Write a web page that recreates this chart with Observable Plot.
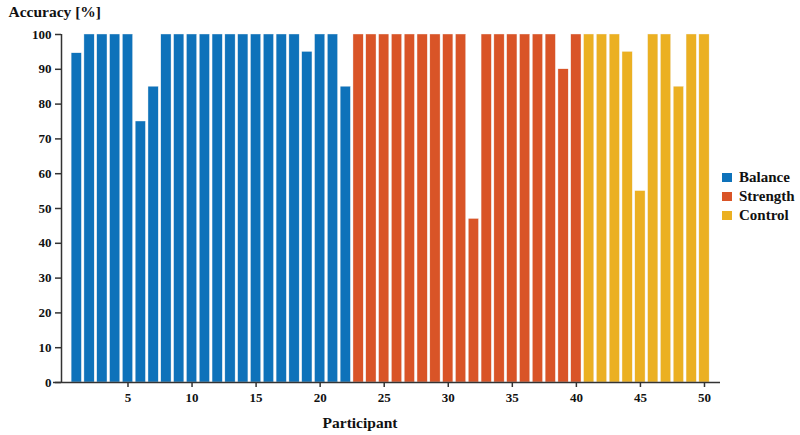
<!DOCTYPE html>
<html>
<head>
<meta charset="utf-8">
<script src="https://cdn.jsdelivr.net/npm/d3@7"></script>
<script src="https://cdn.jsdelivr.net/npm/@observablehq/plot@0.6"></script>
<style>
  html, body { margin: 0; padding: 0; background: #fff; }
  #wrap { position: relative; width: 800px; height: 435px; font-family: "Liberation Serif", "Times New Roman", serif; }
  #legend { position: absolute; left: 722px; top: 168px; font-weight: bold; font-size: 15px; color: #111; }
  #legend div { display: flex; align-items: center; height: 19px; }
  #legend span.sw { display: inline-block; width: 10px; height: 9px; margin-right: 7px; }
</style>
</head>
<body>
<div id="wrap"><div id="legend"></div></div>
<script>
const groups = ["Balance", "Strength", "Control"];
const groupColors = ["#0E72BA", "#D95427", "#EBB022"];
const balance = [94.6, 100, 100, 100, 100, 75, 85, 100, 100, 100, 100, 100, 100, 100, 100, 100, 100, 100, 95, 100, 100, 85];
const strength = [100, 100, 100, 100, 100, 100, 100, 100, 100, 47, 100, 100, 100, 100, 100, 100, 90, 100];
const control = [100, 100, 100, 95, 55, 100, 100, 85, 100, 100];
const yTicks = [0, 10, 20, 30, 40, 50, 60, 70, 80, 90, 100];
const xTicks = [5, 10, 15, 20, 25, 30, 35, 40, 45, 50];

const data = [];
let p = 1;
[balance, strength, control].forEach((vals, gi) => {
  vals.forEach(v => { data.push({participant: p, accuracy: v, group: groups[gi]}); p++; });
});

const font = "Liberation Serif, Times New Roman, serif";
const ink = "#111";

const chart = Plot.plot({
  width: 800,
  height: 435,
  marginTop: 34,
  marginBottom: 53,
  marginLeft: 61,
  marginRight: 80,
  style: {fontFamily: font, fontSize: "13px", fontWeight: "bold", color: ink, background: "#fff"},
  x: {type: "linear", domain: [-0.19, 51.25]},
  y: {domain: [0, 100]},
  color: {domain: groups, range: groupColors},
  marks: [
    Plot.rectY(data, {
      x1: d => d.participant - 0.4,
      x2: d => d.participant + 0.4,
      y1: 0,
      y2: "accuracy",
      fill: "group",
      stroke: "#f4f4f4",
      strokeWidth: 0.4
    }),
    Plot.axisY({ticks: yTicks, tickSize: 6, tickPadding: 4, tickFormat: d3.format("d"), label: null, stroke: "#333", strokeWidth: 1.5, fontSize: 13}),
    Plot.axisX({ticks: xTicks, tickSize: 5, tickPadding: 5, tickFormat: d3.format("d"), label: null, stroke: "#333", strokeWidth: 1.5, fontSize: 13}),
    Plot.ruleX([-0.19], {stroke: "#333", strokeWidth: 1.5}),
    Plot.ruleY([0], {stroke: "#333", strokeWidth: 1.5, insetLeft: -8}),
    Plot.text(["Accuracy [%]"], {frameAnchor: "top-left", dx: -53, dy: -29, textAnchor: "start", lineAnchor: "top", fontSize: 15.5, fontWeight: "bold", fill: ink}),
    Plot.text(["Participant"], {frameAnchor: "bottom", dx: -31, dy: 34, lineAnchor: "top", fontSize: 15.5, fontWeight: "bold", fill: ink})
  ]
});
document.getElementById("wrap").prepend(chart);

const legend = document.getElementById("legend");
groups.forEach((g, i) => {
  const row = document.createElement("div");
  const sw = document.createElement("span");
  sw.className = "sw";
  sw.style.background = groupColors[i];
  row.appendChild(sw);
  row.appendChild(document.createTextNode(g));
  legend.appendChild(row);
});
</script>
</body>
</html>
